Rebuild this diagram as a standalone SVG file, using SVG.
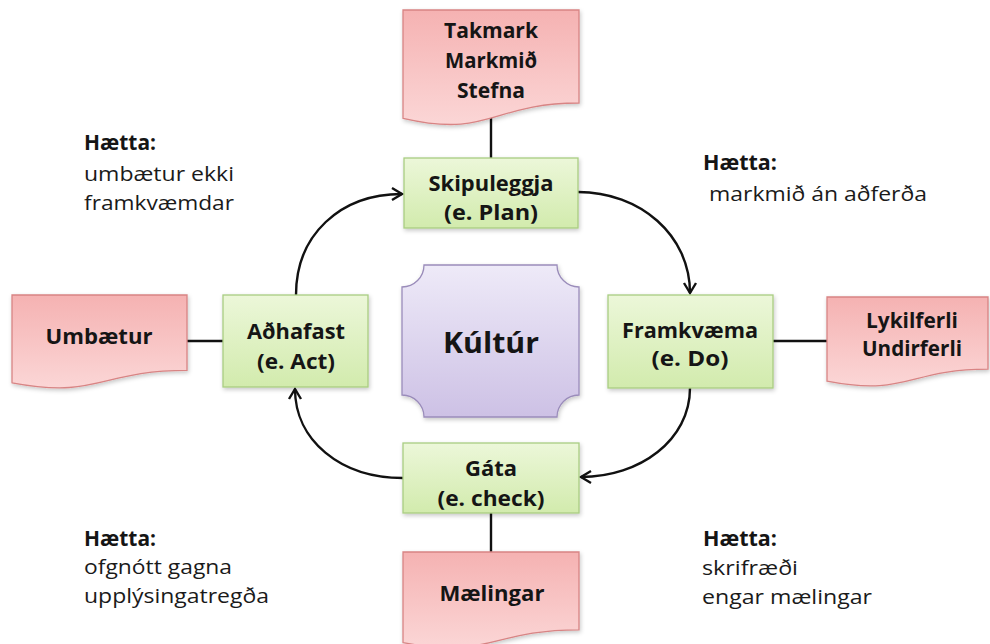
<svg xmlns="http://www.w3.org/2000/svg" width="990" height="644" viewBox="0 0 990 644">
<defs>
<linearGradient id="gPink" x1="0" y1="0" x2="0" y2="1"><stop offset="0" stop-color="#f5b2b2"/><stop offset="1" stop-color="#fbd6d6"/></linearGradient>
<linearGradient id="gGreen" x1="0" y1="0" x2="0" y2="1"><stop offset="0" stop-color="#ecf7d9"/><stop offset="1" stop-color="#d2ebad"/></linearGradient>
<linearGradient id="gPurple" x1="0" y1="0" x2="0" y2="1"><stop offset="0" stop-color="#eeeaf8"/><stop offset="1" stop-color="#cdc1e5"/></linearGradient>
<filter id="sh" x="-10%" y="-10%" width="125%" height="130%"><feDropShadow dx="1" dy="2" stdDeviation="2" flood-color="#000" flood-opacity="0.22"/></filter>
<marker id="arr" markerUnits="userSpaceOnUse" markerWidth="16" markerHeight="16" refX="13" refY="8" orient="auto" viewBox="0 0 16 16">
<path d="M3,2 L13,8 L3,14" fill="none" stroke="#111" stroke-width="2.4" stroke-linejoin="miter"/>
</marker>
</defs>
<style>
.doc{fill:url(#gPink);stroke:#d88484;stroke-width:1.3;filter:url(#sh)}
.proc{fill:url(#gGreen);stroke:#a9cd82;stroke-width:1.3;filter:url(#sh)}
.plq{fill:url(#gPurple);stroke:#9a8cba;stroke-width:1.3;filter:url(#sh)}
.b{font-family:"Open Sans","Noto Sans","DejaVu Sans",sans-serif;font-weight:bold;font-size:21px;fill:#151515}
.c{text-anchor:middle}
.r{font-family:"Open Sans","Noto Sans","DejaVu Sans",sans-serif;font-size:20px;fill:#1a1a1a}
.k{font-size:28px}
.ln{fill:none;stroke:#111;stroke-width:2.4}
.arw{fill:none;stroke:#111;stroke-width:2.4;marker-end:url(#arr)}
</style>
<rect width="990" height="644" fill="#ffffff"/>

<g id="connectors">
<line class="ln" x1="491" y1="116" x2="491" y2="158"/>
<line class="ln" x1="187" y1="341" x2="223" y2="341"/>
<line class="ln" x1="773" y1="341" x2="827" y2="341"/>
<line class="ln" x1="491" y1="513" x2="491" y2="552"/>
<path class="arw" d="M296,295 C296,235 340,194 402,194"/>
<path class="arw" d="M578,192 C640,192 690,235 690,293"/>
<path class="arw" d="M690,388 C690,440 640,477 581,477"/>
<path class="arw" d="M403,478 C340,478 295,440 295,389"/>
</g>

<g id="takmark">
<path class="doc" d="M403,10 H579 V103 C491,103 491,138.5 403,118.3 Z"/>
<text class="b c" x="491" y="38" textLength="94" lengthAdjust="spacingAndGlyphs">Takmark</text>
<text class="b c" x="491" y="68" textLength="92" lengthAdjust="spacingAndGlyphs">Markmið</text>
<text class="b c" x="491" y="98" textLength="68" lengthAdjust="spacingAndGlyphs">Stefna</text>
</g>

<g id="skipuleggja">
<rect class="proc" x="404" y="158" width="174" height="70"/>
<text class="b c" x="491" y="191" textLength="125" lengthAdjust="spacingAndGlyphs">Skipuleggja</text>
<text class="b c" x="491" y="220" textLength="94" lengthAdjust="spacingAndGlyphs">(e. Plan)</text>
</g>

<g id="umbaetur">
<path class="doc" d="M12,295 H187 V370.4 C99.5,370.4 99.5,399.1 12,382.8 Z"/>
<text class="b c" x="99" y="344" textLength="107" lengthAdjust="spacingAndGlyphs">Umbætur</text>
</g>

<g id="adhafast">
<rect class="proc" x="223" y="295" width="145" height="92"/>
<text class="b c" x="296" y="339" textLength="98" lengthAdjust="spacingAndGlyphs">Aðhafast</text>
<text class="b c" x="296" y="369" textLength="78" lengthAdjust="spacingAndGlyphs">(e. Act)</text>
</g>

<g id="kultur">
<path class="plq" d="M424,265 H557 A22,22 0 0 0 579,287 V395 A22,22 0 0 0 557,417 H424 A22,22 0 0 0 402,395 V287 A22,22 0 0 0 424,265 Z"/>
<text class="b c k" x="491" y="353" textLength="96" lengthAdjust="spacingAndGlyphs">Kúltúr</text>
</g>

<g id="framkvaema">
<rect class="proc" x="608" y="295" width="165" height="93"/>
<text class="b c" x="690" y="338" textLength="136" lengthAdjust="spacingAndGlyphs">Framkvæma</text>
<text class="b c" x="690" y="366" textLength="77" lengthAdjust="spacingAndGlyphs">(e. Do)</text>
</g>

<g id="lykilferli">
<path class="doc" d="M827,297 H988 V369.2 C907.5,369.2 907.5,396.7 827,381.1 Z"/>
<text class="b c" x="912" y="328" textLength="92" lengthAdjust="spacingAndGlyphs">Lykilferli</text>
<text class="b c" x="912" y="356" textLength="100" lengthAdjust="spacingAndGlyphs">Undirferli</text>
</g>

<g id="gata">
<rect class="proc" x="403" y="443" width="176" height="70"/>
<text class="b c" x="491" y="476" textLength="52" lengthAdjust="spacingAndGlyphs">Gáta</text>
<text class="b c" x="491" y="506" textLength="107" lengthAdjust="spacingAndGlyphs">(e. check)</text>
</g>

<g id="maelingar">
<path class="doc" d="M403,552 H579 V629.8 C491,629.8 491,659.4 403,642.6 Z"/>
<text class="b c" x="492" y="601" textLength="105" lengthAdjust="spacingAndGlyphs">Mælingar</text>
</g>

<g id="risk-act">
<text class="b" x="84" y="150" textLength="72" lengthAdjust="spacingAndGlyphs">Hætta:</text>
<text class="r" x="84" y="181" textLength="150" lengthAdjust="spacingAndGlyphs">umbætur ekki</text>
<text class="r" x="84" y="210" textLength="150" lengthAdjust="spacingAndGlyphs">framkvæmdar</text>
</g>
<g id="risk-plan">
<text class="b" x="703" y="170" textLength="74" lengthAdjust="spacingAndGlyphs">Hætta:</text>
<text class="r" x="709" y="201" textLength="218" lengthAdjust="spacingAndGlyphs">markmið án aðferða</text>
</g>
<g id="risk-check">
<text class="b" x="84" y="546" textLength="72" lengthAdjust="spacingAndGlyphs">Hætta:</text>
<text class="r" x="84" y="574" textLength="148" lengthAdjust="spacingAndGlyphs">ofgnótt gagna</text>
<text class="r" x="84" y="603" textLength="185" lengthAdjust="spacingAndGlyphs">upplýsingatregða</text>
</g>
<g id="risk-do">
<text class="b" x="703" y="546" textLength="74" lengthAdjust="spacingAndGlyphs">Hætta:</text>
<text class="r" x="702" y="575" textLength="96" lengthAdjust="spacingAndGlyphs">skrifræði</text>
<text class="r" x="702" y="604" textLength="170" lengthAdjust="spacingAndGlyphs">engar mælingar</text>
</g>
</svg>
